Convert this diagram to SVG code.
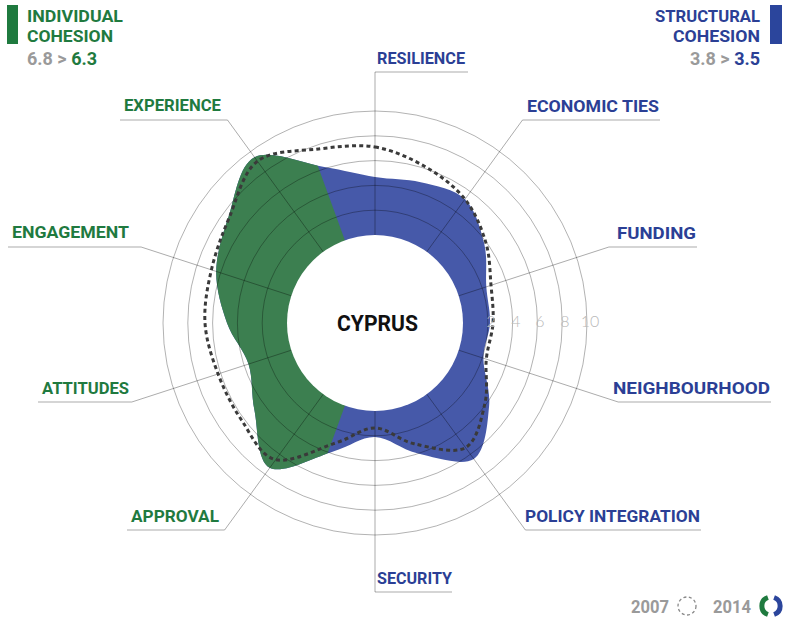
<svg xmlns="http://www.w3.org/2000/svg" width="786" height="624" viewBox="0 0 786 624">
<style>
.lbl{font-family:Roboto,"Liberation Sans",sans-serif;font-weight:700;font-size:17px}
.g{fill:#1f7a3f}
.b{fill:#2b3f95}
.gray{fill:#9a9a9a}
.ring{fill:none;stroke:#000;stroke-opacity:.3;stroke-width:1}
.ax{fill:none;stroke:#000;stroke-opacity:.33;stroke-width:1}
.scale{font-family:Lato,"Open Sans",sans-serif;font-weight:300;font-size:16px;fill:#b8b8b8;text-anchor:middle}
.num{font-family:Roboto,"Liberation Sans",sans-serif;font-weight:700;font-size:18px}
</style>
<defs>
<path id="shape" d="M375,177 C391.07,179.55 405.7,178.6 420.7,182.3 C435.7,186 454.42,188.98 465,199.2 C475.58,209.42 480.65,229 484.2,243.6 C487.75,258.2 485.33,273.57 486.3,286.8 C487.27,300.03 490.48,311.1 490,323 C489.52,334.9 483.55,344.38 483.4,358.2 C483.25,372.02 490.7,389.12 489.1,405.9 C487.5,422.68 485.77,451 473.8,458.9 C461.83,466.8 433.77,456.95 417.3,453.3 C400.83,449.65 389,437.32 375,437 C361,436.68 350.85,446.27 333.3,451.4 C315.75,456.53 282.83,474.6 269.7,467.8 C256.57,461 258.03,427.88 254.5,410.6 C250.97,393.32 253.08,378.7 248.5,364.1 C243.92,349.5 232.38,338.45 227,323 C221.62,307.55 215.930,289.13 216.2,271.4 C216.47,253.67 222.22,235.63 228.6,216.6 C234.98,197.57 238.55,165.47 254.5,157.2 C270.45,148.93 304.22,163.7 324.3,167 C344.38,170.3 358.93,174.45 375,177 Z"/>
<clipPath id="gclip"><polygon points="375,323 272.4,604.9 -100,604.9 -100,41.1 272.4,41.1"/></clipPath>
</defs>

<g id="chart">
<use href="#shape" fill="#4659a9"/>
<use href="#shape" fill="#3c7f50" clip-path="url(#gclip)"/>
<circle class="ring" cx="375" cy="323" r="112.8"/>
<circle class="ring" cx="375" cy="323" r="137.6"/>
<circle class="ring" cx="375" cy="323" r="162.4"/>
<circle class="ring" cx="375" cy="323" r="187.2"/>
<circle class="ring" cx="375" cy="323" r="212"/>
</g>

<g id="connectors">
<path class="ax" d="M375,323 V72 H468"/>
<path class="ax" d="M375,323 L522.5,120 H660"/>
<path class="ax" d="M375,323 L608.9,247 H697"/>
<path class="ax" d="M375,323 L618.2,402 H771"/>
<path class="ax" d="M375,323 L525.4,530 H701"/>
<path class="ax" d="M375,323 V592 H452"/>
<path class="ax" d="M375,323 L224.6,530 H127"/>
<path class="ax" d="M375,323 L131.8,402 H38"/>
<path class="ax" d="M375,323 L141.1,247 H8"/>
<path class="ax" d="M375,323 L227.5,120 H120"/>
</g>

<g id="center">
<circle cx="375" cy="323" r="88" fill="#fff"/>
<path id="y2007" fill="none" stroke="#3a3a3a" stroke-width="3" stroke-dasharray="4 3.2" d="M375,147 C392.87,150 410.7,158.3 425.7,167 C440.7,175.7 454.98,186.63 465,199.2 C475.02,211.77 481.47,228.05 485.8,242.4 C490.13,256.75 489.8,271.87 491,285.3 C492.2,298.73 493.78,310.68 493,323 C492.22,335.32 487.63,345.87 486.3,359.2 C484.97,372.53 488.45,388.27 485,403 C481.55,417.73 477.4,440.8 465.6,447.6 C453.8,454.4 429.3,447.07 414.2,443.8 C399.1,440.53 388.02,428.17 375,428 C361.98,427.83 352.67,437.52 336.1,442.8 C319.53,448.08 291.37,463.5 275.6,459.7 C259.83,455.9 251.08,434.28 241.5,420 C231.92,405.72 224.18,390.17 218.1,374 C212.02,357.83 206.12,340.35 205,323 C203.88,305.65 207.33,287.53 211.4,269.9 C215.47,252.27 221.73,235.32 229.4,217.2 C237.07,199.08 242.55,172.57 257.4,161.2 C272.25,149.83 298.9,151.37 318.5,149 C338.1,146.63 357.13,144 375,147 Z"/>
<text x="377.5" y="331" text-anchor="middle" font-family="Roboto, 'Liberation Sans', sans-serif" font-weight="700" font-size="22" fill="#111" textLength="81" lengthAdjust="spacingAndGlyphs">CYPRUS</text>
</g>

<g id="scale">
<text class="scale" x="491" y="327">2</text>
<text class="scale" x="516" y="327">4</text>
<text class="scale" x="540" y="327">6</text>
<text class="scale" x="565" y="327">8</text>
<text class="scale" x="590" y="327">10</text>
</g>

<g id="resilience"><text class="lbl b" x="377" y="64" textLength="88" lengthAdjust="spacingAndGlyphs">RESILIENCE</text></g>
<g id="economic-ties"><text class="lbl b" x="527" y="112" textLength="132" lengthAdjust="spacingAndGlyphs">ECONOMIC TIES</text></g>
<g id="funding"><text class="lbl b" x="617" y="239" textLength="79" lengthAdjust="spacingAndGlyphs">FUNDING</text></g>
<g id="neighbourhood"><text class="lbl b" x="613" y="394" textLength="157" lengthAdjust="spacingAndGlyphs">NEIGHBOURHOOD</text></g>
<g id="policy-integration"><text class="lbl b" x="525" y="522" textLength="175" lengthAdjust="spacingAndGlyphs">POLICY INTEGRATION</text></g>
<g id="security"><text class="lbl b" x="377" y="584" textLength="75" lengthAdjust="spacingAndGlyphs">SECURITY</text></g>
<g id="approval"><text class="lbl g" x="131" y="522" textLength="88" lengthAdjust="spacingAndGlyphs">APPROVAL</text></g>
<g id="attitudes"><text class="lbl g" x="42" y="394" textLength="87" lengthAdjust="spacingAndGlyphs">ATTITUDES</text></g>
<g id="engagement"><text class="lbl g" x="12" y="238" textLength="117" lengthAdjust="spacingAndGlyphs">ENGAGEMENT</text></g>
<g id="experience"><text class="lbl g" x="124" y="111" textLength="97" lengthAdjust="spacingAndGlyphs">EXPERIENCE</text></g>

<g id="legend-individual">
<rect x="7" y="5" width="11" height="39" fill="#1f7a3f"/>
<text class="lbl g" x="27" y="22" textLength="96" lengthAdjust="spacingAndGlyphs">INDIVIDUAL</text>
<text class="lbl g" x="27" y="42" textLength="86" lengthAdjust="spacingAndGlyphs">COHESION</text>
<text class="num" x="27" y="65"><tspan class="gray">6.8 &gt; </tspan><tspan class="g">6.3</tspan></text>
</g>

<g id="legend-structural">
<rect x="770" y="5" width="12" height="39" fill="#2b459c"/>
<text class="lbl b" x="760" y="22" text-anchor="end" textLength="105" lengthAdjust="spacingAndGlyphs">STRUCTURAL</text>
<text class="lbl b" x="760" y="42" text-anchor="end" textLength="87" lengthAdjust="spacingAndGlyphs">COHESION</text>
<text class="num" x="760" y="65" text-anchor="end"><tspan class="gray">3.8 &gt; </tspan><tspan class="b">3.5</tspan></text>
</g>

<g id="legend-years">
<text class="num gray" x="631" y="613" font-size="17" textLength="38" lengthAdjust="spacingAndGlyphs">2007</text>
<circle cx="687" cy="606" r="9" fill="none" stroke="#888" stroke-width="1.3" stroke-dasharray="3 2.5"/>
<text class="num gray" x="713" y="613" font-size="17" textLength="38" lengthAdjust="spacingAndGlyphs">2014</text>
<path d="M767.9,614.5 A9,9 0 0 1 767.9,597.5" fill="none" stroke="#1f7a3f" stroke-width="5"/>
<path d="M774.1,597.5 A9,9 0 0 1 774.1,614.5" fill="none" stroke="#2b459c" stroke-width="5"/>
</g>
</svg>
